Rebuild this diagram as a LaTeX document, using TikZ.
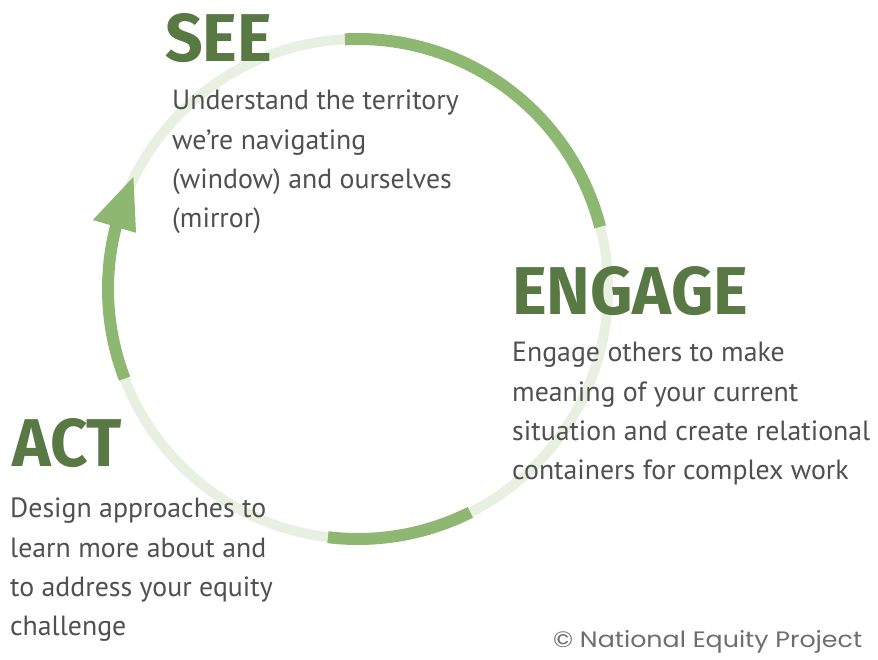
\documentclass[tikz,border=0pt]{standalone}
\usepackage{fontspec}
\setmainfont{PT Sans}
\newfontfamily\titlefont{Fira Sans}
\newfontfamily\copyfont{Poppins}
\usetikzlibrary{calc}
\definecolor{ringlight}{HTML}{E8F0E2}
\definecolor{ringdark}{HTML}{8EB872}
\definecolor{titlegreen}{HTML}{587844}
\definecolor{bodygray}{HTML}{505050}
\definecolor{copygray}{HTML}{6E6E6E}
\tikzset{
  ringbase/.style={draw=ringlight, line width=10pt},
  ringseg/.style={draw=ringdark, line width=12pt},
  arrowtip/.style={fill=ringdark, draw=none},
  titletext/.style={anchor=base west, inner sep=0pt, text=titlegreen},
  bodytext/.style={anchor=base west, inner sep=0pt, text=bodygray, font=\fontsize{27.8}{33}\selectfont},
  copytext/.style={anchor=base west, inner sep=0pt, text=copygray}
}
\begin{document}
\begin{tikzpicture}[x=1pt,y=1pt]
\useasboundingbox (0,0) rectangle (878,660);
\fill[white] (0,0) rectangle (878,660);
\coordinate (c) at (358,371);
% light ring
\draw[ringbase] (c) circle (250);
% top segment
\draw[ringseg] ($(c)+(93:250)$) arc[start angle=93, end angle=14.4, radius=250];
% bottom segment
\draw[ringseg] ($(c)+(-63.3:250)$) arc[start angle=-63.3, end angle=-96.9, radius=250];
% left segment with arrow
\draw[ringseg] ($(c)+(201:250)$) arc[start angle=201, end angle=165, radius=250];
\coordinate (tipA) at ($(c)+(165.4:274)$);
\coordinate (tipB) at ($(c)+(165.8:229)$);
\coordinate (tipC) at ($(c)+(153.5:251)$);
\fill[arrowtip] (tipA) -- (tipC) -- (tipB) -- cycle;
% titles
\node[titletext] (see) at (165,598) {\resizebox{107pt}{48pt}{\titlefont\bfseries SEE}};
\node[titletext] (engage) at (512,345) {\resizebox{236pt}{48pt}{\titlefont\bfseries ENGAGE}};
\node[titletext] (act) at (12,193) {\resizebox{110pt}{48pt}{\titlefont\bfseries ACT}};
% bodies
\foreach \t [count=\i] in {Understand the territory, we’re navigating, (window) and ourselves, (mirror)}
  \node[bodytext] (see\i) at (172,{550-(\i-1)*39.3}) {\t};
\foreach \t [count=\i] in {Engage others to make, meaning of your current, situation and create relational, containers for complex work}
  \node[bodytext] (eng\i) at (512,{298-(\i-1)*39.3}) {\t};
\foreach \t [count=\i] in {Design approaches to, learn more about and, to address your equity, challenge}
  \node[bodytext] (act\i) at (10,{142-(\i-1)*39.3}) {\t};
\node[copytext] (copy) at (553,12) {\resizebox{309pt}{17pt}{\copyfont © National Equity Project}};
\end{tikzpicture}
\end{document}
